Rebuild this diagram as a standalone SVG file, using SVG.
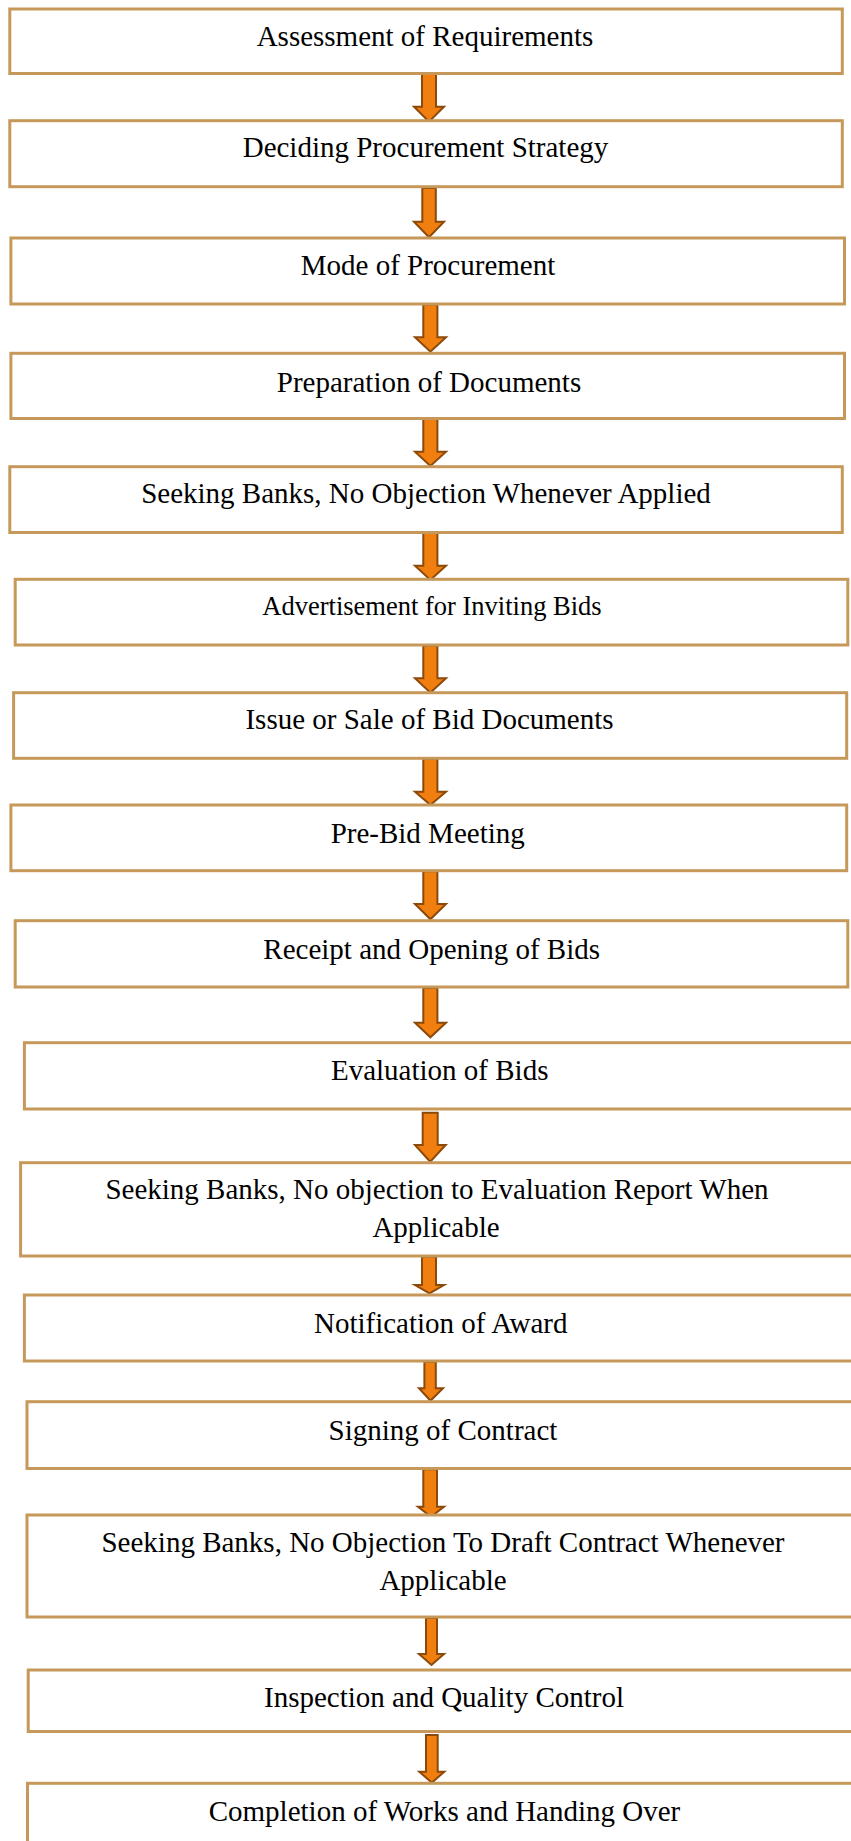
<svg xmlns="http://www.w3.org/2000/svg" width="851" height="1841" viewBox="0 0 851 1841">
  <style>
    .box { fill: #ffffff; stroke: #C6995B; stroke-width: 3; }
    .lbl { font-family: "Liberation Serif", "Times New Roman", serif; font-size: 29px; fill: #000000; text-anchor: middle; }
    .sm { font-size: 26.5px; }
    .arr { fill: #F07F0F; stroke: #8C4A0A; stroke-width: 2; stroke-linejoin: miter; }
  </style>
  <rect width="851" height="1841" fill="#ffffff"/>

  <g id="connectors">
    <polygon class="arr" points="422,74 436,74 436,106.7 444,106.7 429,121.7 414,106.7 422,106.7"/>
    <polygon class="arr" points="422.3,188 435.8,188 435.8,221.7 444,221.7 429,237.3 414,221.7 422.3,221.7"/>
    <polygon class="arr" points="423.3,304.5 437.4,304.5 437.4,337.3 446,337.3 430.4,351.7 415,337.3 423.3,337.3"/>
    <polygon class="arr" points="423.3,419 437.4,419 437.4,451.7 446,451.7 430.4,466 415,451.7 423.3,451.7"/>
    <polygon class="arr" points="423.3,533 437.4,533 437.4,565.7 446,565.7 430.4,580 415,565.7 423.3,565.7"/>
    <polygon class="arr" points="423.3,645.5 437.4,645.5 437.4,678.3 446,678.3 430.4,692.7 415,678.3 423.3,678.3"/>
    <polygon class="arr" points="423.3,758.8 437.4,758.8 437.4,791.7 446,791.7 430.4,805 415,791.7 423.3,791.7"/>
    <polygon class="arr" points="423.3,871.2 437.4,871.2 437.4,904 446,904 430.4,919.3 415,904 423.3,904"/>
    <polygon class="arr" points="423.3,988 437.4,988 437.4,1022.7 446,1022.7 430.4,1037.3 415,1022.7 423.3,1022.7"/>
    <polygon class="arr" points="422.7,1112.7 437.7,1112.7 437.7,1145 445.7,1145 430.2,1161.7 415,1145 422.7,1145"/>
    <polygon class="arr" points="422,1256.5 436,1256.5 436,1285 444,1285 429.5,1293.3 415,1285 422,1285"/>
    <polygon class="arr" points="424.4,1361.7 435.8,1361.7 435.8,1388.3 443,1388.3 430.5,1400.7 419,1388.3 424.4,1388.3"/>
    <polygon class="arr" points="423.3,1469.3 437,1469.3 437,1506.7 444,1506.7 431,1516.7 418,1506.7 423.3,1506.7"/>
    <polygon class="arr" points="426,1618 437,1618 437,1654 444,1654 431.5,1665 419,1654 426,1654"/>
    <polygon class="arr" points="426,1735 437.7,1735 437.7,1771.7 444.3,1771.7 431.8,1782.7 419.3,1771.7 426,1771.7"/>
  </g>

  <g id="n1"><rect class="box" x="9.8" y="9" width="832.5" height="64.5"/><text class="lbl" x="425" y="45.5">Assessment of Requirements</text></g>
  <g id="n2"><rect class="box" x="9.8" y="120.7" width="832.5" height="66"/><text class="lbl" x="425.5" y="156.7">Deciding Procurement Strategy</text></g>
  <g id="n3"><rect class="box" x="10.9" y="238" width="833.6" height="66"/><text class="lbl" x="428" y="275">Mode of Procurement</text></g>
  <g id="n4"><rect class="box" x="10.9" y="353.3" width="833.6" height="65.2"/><text class="lbl" x="429" y="391.7">Preparation of Documents</text></g>
  <g id="n5"><rect class="box" x="9.8" y="466.7" width="832.5" height="65.8"/><text class="lbl" x="426" y="503">Seeking Banks, No Objection Whenever Applied</text></g>
  <g id="n6"><rect class="box" x="15.2" y="579.3" width="832.6" height="65.7"/><text class="lbl sm" x="432" y="615">Advertisement for Inviting Bids</text></g>
  <g id="n7"><rect class="box" x="13.6" y="692.7" width="833.1" height="65.6"/><text class="lbl" x="429.5" y="729.3">Issue or Sale of Bid Documents</text></g>
  <g id="n8"><rect class="box" x="10.9" y="805" width="835.8" height="65.7"/><text class="lbl" x="427.7" y="843.3">Pre-Bid Meeting</text></g>
  <g id="n9"><rect class="box" x="15.2" y="920.7" width="832.6" height="66.3"/><text class="lbl" x="431.7" y="959.3">Receipt and Opening of Bids</text></g>
  <g id="n10"><rect class="box" x="24.4" y="1042.7" width="832" height="66.3"/><text class="lbl" x="439.7" y="1080">Evaluation of Bids</text></g>
  <g id="n11"><rect class="box" x="20.6" y="1162.7" width="833" height="93.3"/><text class="lbl" x="437" y="1199">Seeking Banks, No objection to Evaluation Report When</text><text class="lbl" x="436" y="1236.5">Applicable</text></g>
  <g id="n12"><rect class="box" x="24.4" y="1295" width="833" height="66"/><text class="lbl" x="440.7" y="1332.7">Notification of Award</text></g>
  <g id="n13"><rect class="box" x="27" y="1401.7" width="833" height="66.8"/><text class="lbl" x="443" y="1440">Signing of Contract</text></g>
  <g id="n14"><rect class="box" x="27" y="1515" width="833" height="102"/><text class="lbl" x="443" y="1552">Seeking Banks, No Objection To Draft Contract Whenever</text><text class="lbl" x="443" y="1589.5">Applicable</text></g>
  <g id="n15"><rect class="box" x="28.2" y="1670" width="833" height="61.5"/><text class="lbl" x="444" y="1706.7">Inspection and Quality Control</text></g>
  <g id="n16"><rect class="box" x="27.5" y="1783.3" width="833" height="80"/><text class="lbl" x="444.5" y="1820.7">Completion of Works and Handing Over</text></g>
</svg>
